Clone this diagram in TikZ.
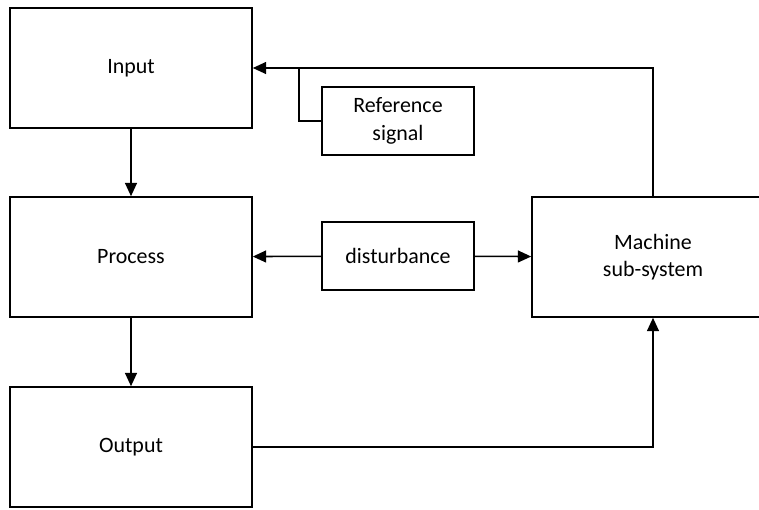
\documentclass[tikz,border=0pt]{standalone}
\usepackage{fontspec}
\setmainfont{Carlito}
\usetikzlibrary{arrows.meta,positioning,calc}
\tikzstyle{blk} = [draw,line width=1.1pt,minimum width=6.05cm,minimum height=3cm,align=center,inner sep=0pt,font=\fontsize{15.6}{19.5}\selectfont]
\tikzstyle{sblk} = [blk,minimum width=3.8cm,minimum height=1.7cm]

\begin{document}
\begin{tikzpicture}[x=0.025cm,y=-0.025cm,>={Triangle[length=9.5pt,width=8.5pt]},line width=1.1pt]
    \clip (0,0) rectangle (759,509);

    \node [blk] (input) at (131,68) {Input};
    \node [blk] (process) at (131,257) {Process};
    \node [blk] (output) at (131,447) {Output};
    \node [sblk] (ref) at (398,121) {Reference\\signal};
    \node [sblk] (dist) at (398,256) {disturbance};
    \node [blk] (machine) at (653,257) {Machine\\sub-system};

    \draw [->] (input) -- (process);
    \draw [->] (process) -- (output);
    \draw [->] (dist) -- (process);
    \draw [->] (dist) -- (machine);
    \draw [->] (output.east) -| (machine.south);

    % feedback to the input, reference joins it
    \draw [->] (machine.north) |- (input.east);
    \coordinate (j) at (299,0);
    \draw (ref.west) -| (j |- input.east);
  \end{tikzpicture}
\end{document}
